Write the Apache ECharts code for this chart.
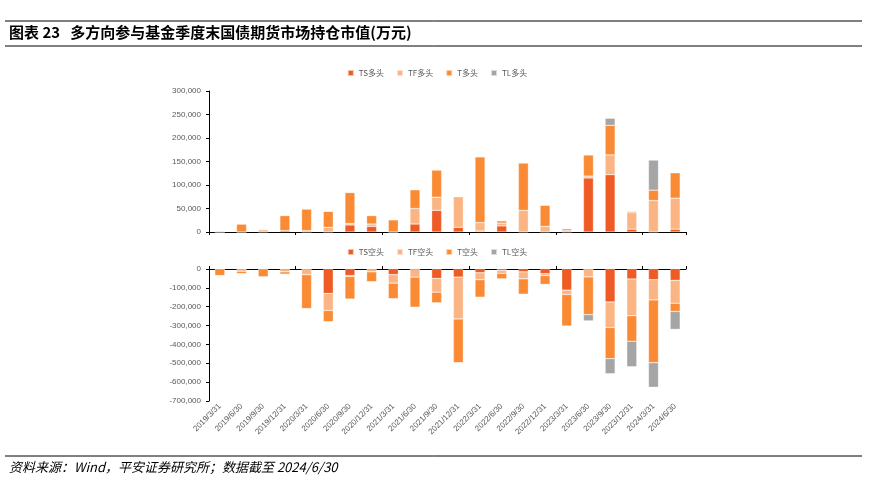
<!DOCTYPE html>
<html>
<head>
<meta charset="UTF-8">
<script src="https://cdn.jsdelivr.net/npm/echarts@6/dist/echarts.min.js"></script>
<style>
    body { margin: 0; background: #fff; }
    #chart { width: 874px; height: 494px; }
</style>
</head>
<body>
<div id="chart"></div>
<script>
    // 季度末日期
    var dates = ['2019/3/31','2019/6/30','2019/9/30','2019/12/31','2020/3/31','2020/6/30','2020/9/30','2020/12/31',
        '2021/3/31','2021/6/30','2021/9/30','2021/12/31','2022/3/31','2022/6/30','2022/9/30','2022/12/31',
        '2023/3/31','2023/6/30','2023/9/30','2023/12/31','2024/3/31','2024/6/30'];

    // 多头 (万元)
    var tsLong = [0,0,0,3000,0,0,15000,12000,0,17000,46000,10000,2000,13000,0,0,0,115000,122000,6000,0,6000];
    var tfLong = [0,0,5000,0,3000,10000,3000,5000,0,33000,28000,65000,18000,6000,46000,12000,3000,4000,42000,35000,67000,66000];
    var tLong  = [2000,17000,0,32000,46000,34000,66000,18000,26000,40000,58000,1000,140000,5000,101000,45000,4000,45000,63000,3000,22000,54000];
    var tlLong = [0,0,0,0,0,0,0,0,0,0,0,0,0,0,0,0,0,1000,15000,0,64000,1000];

    // 空头 (万元)
    var tsShort = [0,0,0,0,0,-130000,-35000,0,-30000,0,-50000,-43000,-20000,-8000,-15000,-25000,-112000,0,-175000,-53000,-57000,-60000];
    var tfShort = [0,-12000,0,-15000,-30000,-90000,-5000,-15000,-45000,-43000,-73000,-222000,-37000,-15000,-37000,-10000,-23000,-42000,-135000,-195000,-107000,-122000];
    var tShort  = [-35000,-13000,-42000,-13000,-180000,-60000,-120000,-53000,-83000,-160000,-57000,-232000,-93000,-30000,-82000,-47000,-168000,-200000,-165000,-135000,-333000,-43000];
    var tlShort = [0,0,0,0,0,0,0,0,0,0,0,0,0,0,0,0,0,-33000,-80000,-135000,-130000,-95000];

    var colors = ['#EF5B25', '#FBB584', '#FA8A34', '#A5A5A5'];
    var chart = echarts.init(document.getElementById('chart'));
    var fmt = function (v) { return v.toLocaleString('en-US'); };
    var axisTxt = { color: '#595959', fontSize: 8, fontFamily: 'Liberation Sans' };

    function bar(name, data, axis, stack, i) {
        return { name: name, type: 'bar', stack: stack, xAxisIndex: axis, yAxisIndex: axis,
            data: data, barWidth: '46%', itemStyle: { color: colors[i], borderColor: 'rgba(255,255,255,0.6)', borderWidth: 0.5 } };
    }

    chart.setOption({
        animation: false,
        textStyle: { fontFamily: 'Noto Sans CJK SC' },
        graphic: [
            { type: 'line', shape: { x1: 5, y1: 21, x2: 862, y2: 21 }, style: { stroke: '#000', lineWidth: 1 } },
            { type: 'line', shape: { x1: 5, y1: 46, x2: 862, y2: 46 }, style: { stroke: '#000', lineWidth: 1 } },
            { type: 'text', left: 9, top: 25, style: { text: '图表 23   多方向参与基金季度末国债期货市场持仓市值(万元)', font: 'bold 15px "Noto Sans CJK SC"', fill: '#000' } },
            { type: 'line', shape: { x1: 5, y1: 456, x2: 862, y2: 456 }, style: { stroke: '#000', lineWidth: 1 } },
            { type: 'text', left: 9, top: 461, style: { text: '资料来源：Wind，平安证券研究所；数据截至 2024/6/30', font: 'italic 13px "Noto Sans CJK SC"', fill: '#000' } }
        ],
        legend: [
            { top: 64, left: 'center', itemWidth: 6, itemHeight: 6, itemGap: 12, icon: 'rect',
              textStyle: { fontSize: 8, color: '#595959' }, data: ['TS多头','TF多头','T多头','TL多头'] },
            { top: 243, left: 'center', itemWidth: 6, itemHeight: 6, itemGap: 12, icon: 'rect',
              textStyle: { fontSize: 8, color: '#595959' }, data: ['TS空头','TF空头','T空头','TL空头'] }
        ],
        grid: [
            { left: 209, right: 188, top: 91, height: 141 },
            { left: 209, right: 188, top: 269, height: 132 }
        ],
        xAxis: [
            { gridIndex: 0, type: 'category', data: dates, axisLabel: { show: false },
              axisLine: { lineStyle: { color: '#000' } }, axisTick: { show: true, length: 3, lineStyle: { color: '#000' } } },
            { gridIndex: 1, type: 'category', data: dates, position: 'top',
              axisLine: { lineStyle: { color: '#000' } }, axisTick: { show: true, length: 3, inside: false, lineStyle: { color: '#000' } },
              axisLabel: { show: false } },
            { gridIndex: 1, type: 'category', data: dates, position: 'bottom', offset: 0,
              axisLine: { show: false }, axisTick: { show: false },
              axisLabel: Object.assign({ rotate: 45, interval: 0, margin: 4 }, axisTxt) }
        ],
        yAxis: [
            { gridIndex: 0, type: 'value', min: 0, max: 300000, interval: 50000, splitLine: { show: false },
              axisLine: { show: true, lineStyle: { color: '#000' } }, axisTick: { show: true, length: 3, lineStyle: { color: '#000' } },
              axisLabel: Object.assign({ formatter: fmt }, axisTxt) },
            { gridIndex: 1, type: 'value', min: -700000, max: 0, interval: 100000, splitLine: { show: false },
              axisLine: { show: true, lineStyle: { color: '#000' } }, axisTick: { show: true, length: 3, lineStyle: { color: '#000' } },
              axisLabel: Object.assign({ formatter: fmt }, axisTxt) }
        ],
        series: [
            bar('TS多头', tsLong, 0, 'long', 0),
            bar('TF多头', tfLong, 0, 'long', 1),
            bar('T多头', tLong, 0, 'long', 2),
            bar('TL多头', tlLong, 0, 'long', 3),
            bar('TS空头', tsShort, 1, 'short', 0),
            bar('TF空头', tfShort, 1, 'short', 1),
            bar('T空头', tShort, 1, 'short', 2),
            bar('TL空头', tlShort, 1, 'short', 3)
        ]
    });
</script>
</body>
</html>
